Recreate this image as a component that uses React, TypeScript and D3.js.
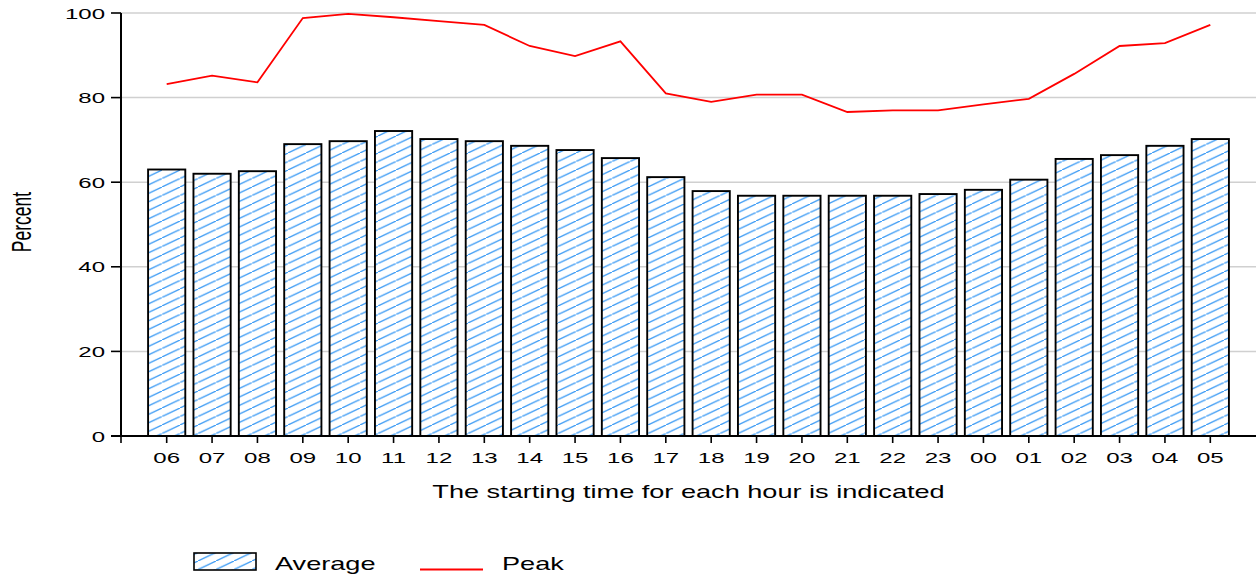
import * as d3 from 'd3'
import { useEffect, useRef } from 'react'

const hours = ['06', '07', '08', '09', '10', '11', '12', '13', '14', '15', '16', '17',
  '18', '19', '20', '21', '22', '23', '00', '01', '02', '03', '04', '05']
const average = [63, 62, 62.6, 69, 69.7, 72.1, 70.2, 69.7, 68.6, 67.6, 65.7, 61.2,
  57.9, 56.8, 56.8, 56.8, 56.8, 57.2, 58.2, 60.6, 65.5, 66.4, 68.6, 70.2]
const peak = [83.2, 85.2, 83.6, 98.8, 99.8, 99, 98.1, 97.2, 92.2, 89.8, 93.3, 81,
  79, 80.7, 80.7, 76.6, 77, 77, 78.4, 79.7, 85.6, 92.2, 92.9, 97.2]
const yTicks = [0, 20, 40, 60, 80, 100]

const W = 1256
const H = 577
const SX = 1.55 // text in the reference is stretched horizontally
const FONT = 'Liberation Sans, Arial, sans-serif'

export default function App() {
  const ref = useRef<SVGSVGElement>(null)

  useEffect(() => {
    const svg = d3.select(ref.current)
    svg.selectAll('*').remove()

    const left = 121
    const right = 1256
    const top = 13
    const bottom = 436

    const x = d3.scaleBand<string>()
      .domain(hours)
      .range([144, 1233])
      .paddingInner(0.18)
      .paddingOuter(0.09)
    const y = d3.scaleLinear().domain([0, 100]).range([bottom, top])

    const defs = svg.append('defs')
    const pat = defs.append('pattern')
      .attr('id', 'hatch')
      .attr('patternUnits', 'userSpaceOnUse')
      .attr('width', 18)
      .attr('height', 8.5)
    pat.append('rect').attr('width', 18).attr('height', 8.5).attr('fill', '#fff')
    pat.append('line')
      .attr('x1', -1).attr('y1', 9).attr('x2', 19).attr('y2', -0.5)
      .attr('stroke', '#3d9bf5').attr('stroke-width', 1.3)

    // grid
    svg.append('g')
      .selectAll('line')
      .data(yTicks.filter((d) => d > 0))
      .join('line')
      .attr('x1', left).attr('x2', right)
      .attr('y1', (d) => y(d)).attr('y2', (d) => y(d))
      .attr('stroke', '#d0d0d0').attr('stroke-width', 1.5)

    // bars
    svg.append('g')
      .selectAll('rect')
      .data(average)
      .join('rect')
      .attr('x', (_, i) => x(hours[i])!)
      .attr('width', x.bandwidth())
      .attr('y', (d) => y(d))
      .attr('height', (d) => bottom - y(d))
      .attr('fill', 'url(#hatch)')
      .attr('stroke', '#000').attr('stroke-width', 1.9)

    // peak line
    const line = d3.line<number>()
      .x((_, i) => x(hours[i])! + x.bandwidth() / 2)
      .y((d) => y(d))
    svg.append('path')
      .datum(peak)
      .attr('d', line)
      .attr('fill', 'none')
      .attr('stroke', '#ff0000').attr('stroke-width', 1.8)

    // y axis
    const ya = svg.append('g')
    ya.append('line')
      .attr('x1', left).attr('x2', left).attr('y1', top).attr('y2', bottom)
      .attr('stroke', '#000').attr('stroke-width', 2)
    const yt = ya.selectAll('g.t').data(yTicks).join('g').attr('class', 't')
    yt.append('line')
      .attr('x1', left - 10).attr('x2', left)
      .attr('y1', (d) => y(d)).attr('y2', (d) => y(d))
      .attr('stroke', '#000').attr('stroke-width', 1.6)
    yt.append('text')
      .attr('transform', (d) => `translate(${left - 16},${y(d) + 5.5}) scale(${SX},1)`)
      .attr('text-anchor', 'end')
      .attr('font-family', FONT).attr('font-size', 15.5)
      .text((d) => d)

    // x axis
    const xa = svg.append('g')
    xa.append('line')
      .attr('x1', left - 10).attr('x2', right).attr('y1', bottom).attr('y2', bottom)
      .attr('stroke', '#000').attr('stroke-width', 2)
    xa.append('line')
      .attr('x1', left).attr('x2', left).attr('y1', bottom).attr('y2', bottom + 7)
      .attr('stroke', '#000').attr('stroke-width', 1.6)
    const xt = xa.selectAll('g.t').data(hours).join('g').attr('class', 't')
    xt.append('line')
      .attr('x1', (d) => x(d)! + x.bandwidth() / 2).attr('x2', (d) => x(d)! + x.bandwidth() / 2)
      .attr('y1', bottom).attr('y2', bottom + 7)
      .attr('stroke', '#000').attr('stroke-width', 1.6)
    xt.append('text')
      .attr('transform', (d) => `translate(${x(d)! + x.bandwidth() / 2},463) scale(${SX},1)`)
      .attr('text-anchor', 'middle')
      .attr('font-family', FONT).attr('font-size', 15.5)
      .text((d) => d)

    // axis titles
    svg.append('text')
      .attr('transform', `translate(${(left + right) / 2},497.5) scale(${SX},1)`)
      .attr('text-anchor', 'middle')
      .attr('font-family', FONT).attr('font-size', 17.5)
      .text('The starting time for each hour is indicated')
    svg.append('text')
      .attr('transform', `translate(31,222) scale(${SX},1) rotate(-90)`)
      .attr('text-anchor', 'middle')
      .attr('font-family', FONT).attr('font-size', 17.5)
      .text('Percent')

    // legend
    const lg = svg.append('g')
    lg.append('rect')
      .attr('x', 194).attr('y', 553).attr('width', 62).attr('height', 17)
      .attr('fill', 'url(#hatch)').attr('stroke', '#000').attr('stroke-width', 1.6)
    lg.append('text')
      .attr('transform', `translate(275,569.5) scale(${SX},1)`)
      .attr('font-family', FONT).attr('font-size', 17.5)
      .text('Average')
    lg.append('line')
      .attr('x1', 420).attr('x2', 483).attr('y1', 569.5).attr('y2', 569.5)
      .attr('stroke', '#ff0000').attr('stroke-width', 1.8)
    lg.append('text')
      .attr('transform', `translate(502,569.5) scale(${SX},1)`)
      .attr('font-family', FONT).attr('font-size', 17.5)
      .text('Peak')
  }, [])

  return (
    <svg
      ref={ref}
      width={W}
      height={H}
      style={{ position: 'absolute', left: 0, top: 0, background: '#fff' }}
    />
  )
}
